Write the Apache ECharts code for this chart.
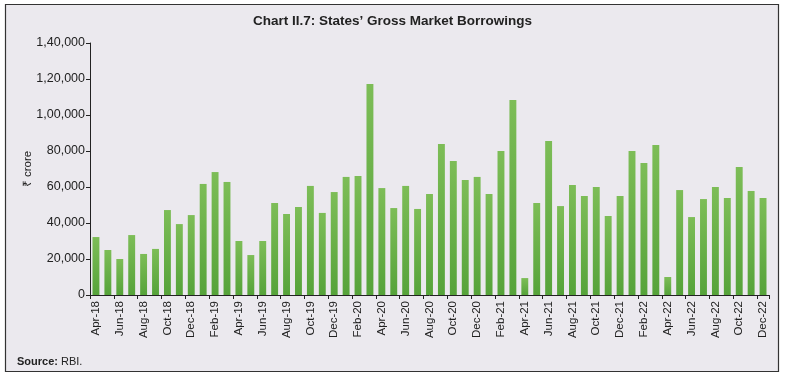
<!DOCTYPE html>
<html>
<head>
<meta charset="utf-8">
<script src="https://cdn.jsdelivr.net/npm/echarts@6/dist/echarts.min.js"></script>
<style>
html,body{margin:0;padding:0;background:#ffffff;}
#c{width:785px;height:377px;}
</style>
</head>
<body>
<div id="c"></div>
<script>
const categories = ["Apr-18","May-18","Jun-18","Jul-18","Aug-18","Sep-18","Oct-18","Nov-18","Dec-18","Jan-19","Feb-19","Mar-19",
"Apr-19","May-19","Jun-19","Jul-19","Aug-19","Sep-19","Oct-19","Nov-19","Dec-19","Jan-20","Feb-20","Mar-20",
"Apr-20","May-20","Jun-20","Jul-20","Aug-20","Sep-20","Oct-20","Nov-20","Dec-20","Jan-21","Feb-21","Mar-21",
"Apr-21","May-21","Jun-21","Jul-21","Aug-21","Sep-21","Oct-21","Nov-21","Dec-21","Jan-22","Feb-22","Mar-22",
"Apr-22","May-22","Jun-22","Jul-22","Aug-22","Sep-22","Oct-22","Nov-22","Dec-22"];
const borrowings = [32200,25000,20000,33300,22800,25600,47200,39400,44400,61700,68300,62800,
30000,22200,30000,51100,45000,48900,60600,45600,57200,65600,66100,117200,
59400,48300,60600,47800,56100,83900,74400,63900,65600,56100,80000,108300,
9400,51100,85600,49400,61100,55000,60000,43900,55000,80000,73300,83300,
10000,58300,43300,53300,60000,53900,71100,57800,53900];
const yTicks = {min:0, max:140000, interval:20000};

function inFmt(v){
  if (v === 0) return '0';
  let s = String(Math.round(v));
  let last3 = s.slice(-3), rest = s.slice(0,-3);
  if (rest.length) rest = rest.replace(/\B(?=(\d{2})+(?!\d))/g, ',') + ',';
  return rest + last3;
}

const chart = echarts.init(document.getElementById('c'), null, {renderer:'canvas'});
const font = "'Liberation Sans Narrow','Arial Narrow','Liberation Sans',Arial,sans-serif";
const sans = "'Liberation Sans',Arial,sans-serif";
chart.setOption({
  backgroundColor: '#ffffff',
  animation: false,
  graphic: [
    {type:'rect', shape:{x:5.5,y:4.5,width:773,height:367}, style:{fill:'#ebe9ee', stroke:'#333333', lineWidth:1.2}, z:-10},
    {type:'text', left:17, top:356, style:{text:'{b|Source:} RBI.', rich:{b:{fontWeight:'bold', fontSize:11, fontFamily:sans, fill:'#222'}}, fontSize:11, fontFamily:sans, fill:'#222'}}
  ],
  title: {
    text: "Chart II.7: States’ Gross Market Borrowings",
    left: 'center', top: 9,
    textStyle: {fontSize: 13.5, fontWeight: 'bold', fontFamily: font, color: '#222'}
  },
  grid: {left: 90, right: 16, top: 43, bottom: 82, containLabel: false},
  xAxis: {
    type: 'category',
    data: categories,
    axisLine: {lineStyle: {color: '#222', width: 1}},
    axisTick: {show: true, interval: 1, length: 4, lineStyle:{color:'#222'}},
    axisLabel: {interval: 1, rotate: 90, fontSize: 11.5, color: '#222', fontFamily: sans, margin: 6}
  },
  yAxis: {
    type: 'value',
    min: yTicks.min, max: yTicks.max, interval: yTicks.interval,
    name: '₹ crore', nameLocation: 'middle', nameGap: 56, nameRotate: 90, nameMoveOverlap: false,
    nameTextStyle: {fontSize: 11.5, color: '#222', fontFamily: sans},
    axisLine: {show: true, lineStyle: {color: '#222'}},
    axisTick: {show: true, length: 4, lineStyle:{color:'#222'}},
    splitLine: {show: false},
    axisLabel: {fontSize: 12.5, color: '#222', fontFamily: sans, margin: 5, formatter: inFmt}
  },
  series: [{
    type: 'bar',
    data: borrowings,
    barCategoryGap: '42%',
    itemStyle: {
      color: new echarts.graphic.LinearGradient(0,0,0,1,[{offset:0,color:'#7dbd57'},{offset:1,color:'#56a33a'}])
    }
  }]
});
</script>
</body>
</html>
